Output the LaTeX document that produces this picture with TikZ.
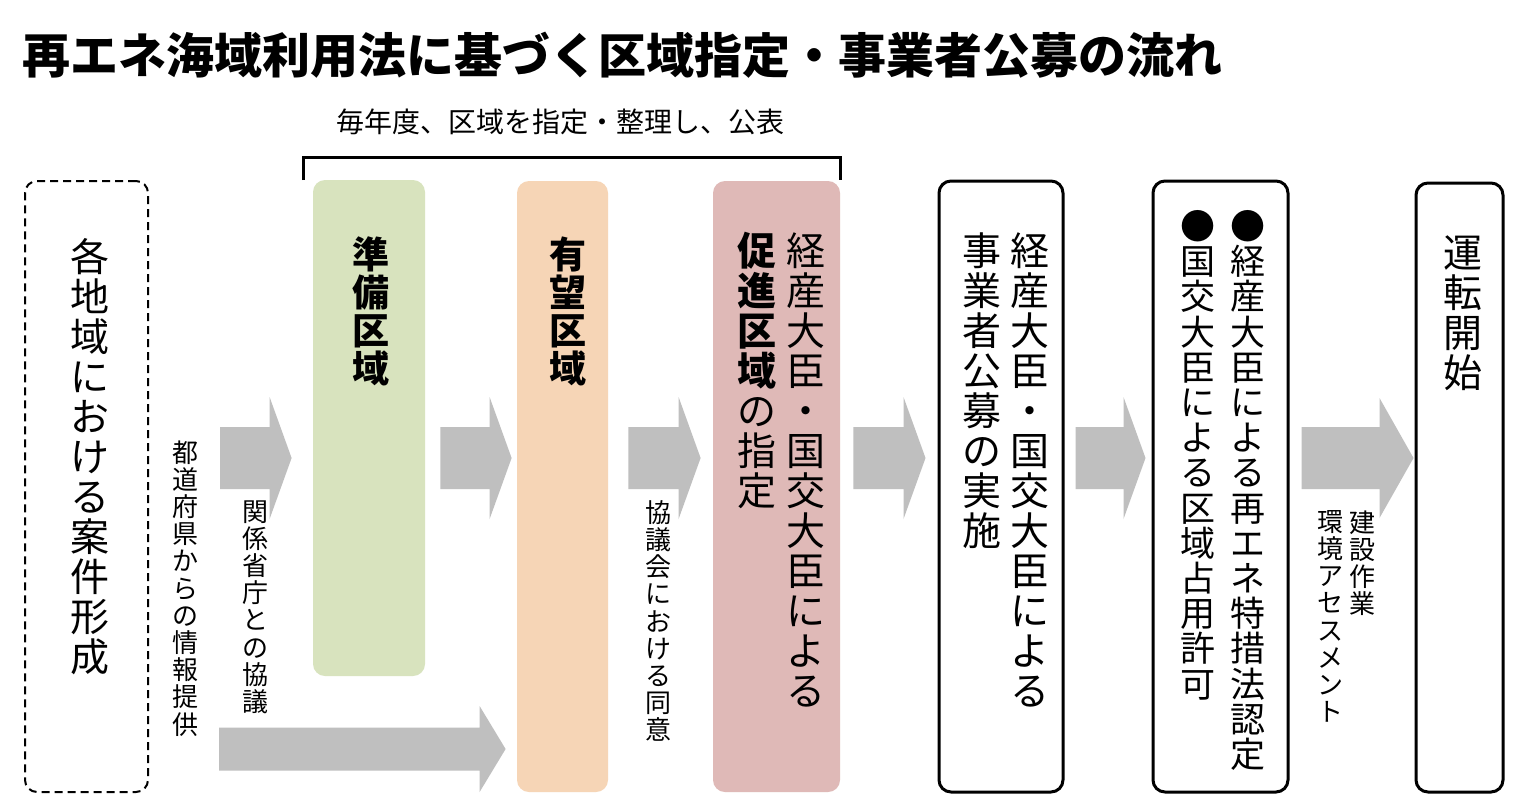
\documentclass[tikz,border=0pt]{standalone}
\usepackage{fontspec}
\newfontfamily\jp{Noto Sans CJK JP}
\usetikzlibrary{calc}
\definecolor{agray}{HTML}{BFBFBF}
\definecolor{gfill}{HTML}{D8E3BE}
\definecolor{ofill}{HTML}{F6D5B6}
\definecolor{pfill}{HTML}{DFB9B7}
% block arrow: start coord, tip coord, head length, body half height, head half height
\newcommand{\blockarrow}[5]{%
  \fill[agray] ($(#1)+(0,-#4)$) -- ($(#2)+(-#3,-#4)$) -- ($(#2)+(-#3,-#5)$) -- (#2)
    -- ($(#2)+(-#3,#5)$) -- ($(#2)+(-#3,#4)$) -- ($(#1)+(0,#4)$) -- cycle;}
\begin{document}
\begin{tikzpicture}[x=0.5pt,y=-0.5pt,
  box/.style={draw=black, line width=1.5pt, rounded corners=6pt, minimum width=#1, inner sep=0pt},
  zone/.style={rounded corners=6pt, inner sep=0pt, minimum width=#1},
  vtxt/.style={align=center, inner sep=0pt, anchor=north},
  big/.style={font=\jp\fontsize{19.5pt}{20pt}\selectfont},
  mid/.style={font=\jp\fontsize{17.5pt}{17.6pt}\selectfont},
  small/.style={font=\jp\fontsize{13pt}{13.6pt}\selectfont},
  bigb/.style={font=\jp\bfseries\fontsize{18.5pt}{19pt}\selectfont}]
\useasboundingbox (0,0) rectangle (1536,810);
\fill[white] (0,0) rectangle (1536,810);

% title
\node[anchor=west, inner sep=0pt, font=\jp\bfseries\fontsize{24pt}{24pt}\selectfont] (title) at (22,55)
  {再エネ海域利用法に基づく区域指定・事業者公募の流れ};

% bracket and its label
\node[inner sep=0pt, font=\jp\fontsize{14pt}{14pt}\selectfont] (yearly) at (560,122)
  {毎年度、区域を指定・整理し、公表};
\coordinate (brL) at (303,180);
\coordinate (brR) at (840,180);
\draw[line width=1.5pt] (brL) -- ++(0,-23) -| (brR);

% boxes
\node[draw=black, line width=1pt, dash pattern=on 4pt off 2.5pt, rounded corners=6pt, inner sep=0pt,
  minimum width=61.5pt, minimum height=305.5pt] (d0) at (86.5,486.5) {};
\node[zone=56pt, fill=gfill, minimum height=248pt] (g) at (369,428) {};
\node[zone=45.5pt, fill=ofill, minimum height=305.5pt] (o) at (562.5,486.5) {};
\node[zone=63.5pt, fill=pfill, minimum height=305.5pt] (p) at (776.5,486.5) {};
\node[box=62pt, minimum height=305.5pt] (b4) at (1001,486.5) {};
\node[box=67.5pt, minimum height=305.5pt] (b5) at (1220.5,486.5) {};
\node[box=43.5pt, minimum height=304.5pt] (b6) at (1459.5,487.5) {};

% texts in boxes
\node[vtxt, big] (t0) at (90,238) {各\\地\\域\\に\\お\\け\\る\\案\\件\\形\\成};
\node[vtxt, bigb] (tg) at (371,236) {準\\備\\区\\域};
\node[vtxt, bigb] (to) at (568,236) {有\\望\\区\\域};
\node[vtxt, big] (tp1) at (806,232) {経\\産\\大\\臣\\・\\国\\交\\大\\臣\\に\\よ\\る};
\node[vtxt, big] (tp2) at (757,232) {{\bfseries 促}\\{\bfseries 進}\\{\bfseries 区}\\{\bfseries 域}\\の\\指\\定};
\node[vtxt, big] (t41) at (1030,232) {経\\産\\大\\臣\\・\\国\\交\\大\\臣\\に\\よ\\る};
\node[vtxt, big] (t42) at (982,232) {事\\業\\者\\公\\募\\の\\実\\施};
\node[vtxt, mid] (t51) at (1248,210) {●\\経\\産\\大\\臣\\に\\よ\\る\\再\\エ\\ネ\\特\\措\\法\\認\\定};
\node[vtxt, mid] (t52) at (1198,210) {●\\国\\交\\大\\臣\\に\\よ\\る\\区\\域\\占\\用\\許\\可};
\node[vtxt, big] (t6) at (1463,235) {運\\転\\開\\始};

% arrow labels
\node[vtxt, small] (l1) at (185,440) {都\\道\\府\\県\\か\\ら\\の\\情\\報\\提\\供};
\node[vtxt, small] (l2) at (255,500) {関\\係\\省\\庁\\と\\の\\協\\議};
\node[vtxt, small] (l3) at (658,500) {協\\議\\会\\に\\お\\け\\る\\同\\意};
\node[vtxt, small] (l4) at (1362,510) {建\\設\\作\\業};
\node[vtxt, small] (l5) at (1330,510) {環\\境\\ア\\セ\\ス\\メ\\ン\\ト};

% block arrows
\coordinate (a1s) at (220,458); \coordinate (a1t) at ($(g.west)+(-21,30)$);
\coordinate (a2s) at ($(g.east)+(15,30)$); \coordinate (a2t) at ($(o.west)+(-5,-28.5)$);
\coordinate (a3s) at ($(o.east)+(20,-28.5)$); \coordinate (a3t) at ($(p.west)+(-12,-28.5)$);
\coordinate (a4s) at ($(p.east)+(13,-28.5)$); \coordinate (a4t) at ($(b4.west)+(-12,-28.5)$);
\coordinate (a5s) at ($(b4.east)+(11,-28.5)$); \coordinate (a5t) at ($(b5.west)+(-6,-28.5)$);
\coordinate (a6s) at ($(b5.east)+(12,-28.5)$); \coordinate (a6t) at ($(b6.west)+(-1,-29.5)$);
\coordinate (a7s) at ($(d0.east)+(70,262.5)$); \coordinate (a7t) at ($(o.west)+(-11,262.5)$);
\blockarrow{a1s}{a1t}{22}{31}{61}
\blockarrow{a2s}{a2t}{22}{31}{61}
\blockarrow{a3s}{a3t}{22}{31}{61}
\blockarrow{a4s}{a4t}{22}{31}{61}
\blockarrow{a5s}{a5t}{22}{31}{61}
\blockarrow{a6s}{a6t}{34}{31}{60}
\blockarrow{a7s}{a7t}{26}{21.5}{43}
\end{tikzpicture}
\end{document}
